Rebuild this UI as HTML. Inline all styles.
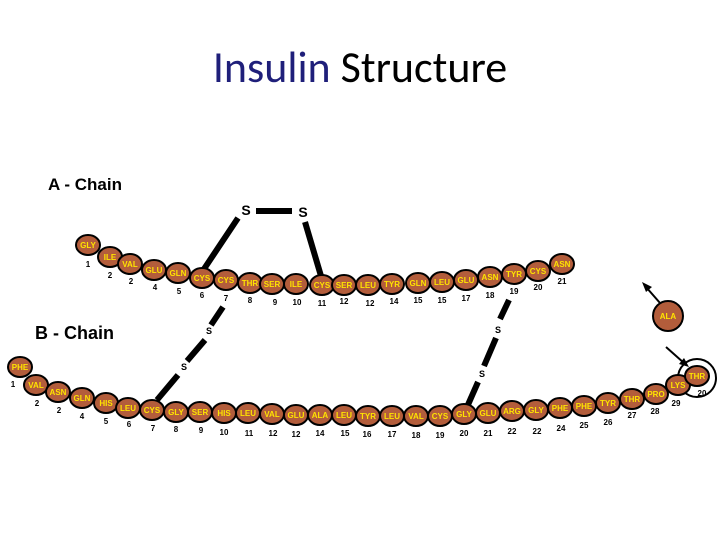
<!DOCTYPE html>
<html><head><meta charset="utf-8"><style>
html,body{margin:0;padding:0;background:#fff;width:720px;height:540px;overflow:hidden}
svg{display:block}
.b{fill:#B35D3B;stroke:#000;stroke-width:2}
.t{fill:#FFE400;font-family:"Liberation Sans",sans-serif;font-weight:bold;font-size:8px;text-anchor:middle}
.n{fill:#000;font-family:"Liberation Sans",sans-serif;font-weight:bold;font-size:8px;text-anchor:middle}
.s{fill:#000;font-family:"Liberation Sans",sans-serif;font-weight:bold;text-anchor:middle}
.bar{stroke:#000;stroke-width:6}
</style></head><body>
<svg id="g" width="720" height="540" viewBox="0 0 720 540" xmlns="http://www.w3.org/2000/svg">
<text x="360" y="82" text-anchor="middle" font-family="Carlito,'Liberation Sans',sans-serif" font-size="44"><tspan fill="#1F1F7A">Insulin</tspan> Structure</text>
<text x="48" y="190" font-family="'Liberation Sans',sans-serif" font-weight="bold" font-size="17">A - Chain</text>
<text x="35" y="339" font-family="'Liberation Sans',sans-serif" font-weight="bold" font-size="18">B - Chain</text>
<text class="s" x="246" y="215" font-size="14">S</text>
<text class="s" x="303" y="217" font-size="14">S</text>
<line class="bar" x1="256" y1="211" x2="292" y2="211"/>
<line class="bar" x1="238" y1="218" x2="204" y2="269"/>
<line class="bar" x1="305" y1="222" x2="321" y2="276"/>
<line class="bar" x1="223" y1="307" x2="211" y2="325"/>
<text class="s" x="209" y="334" font-size="9">S</text>
<line class="bar" x1="205" y1="340" x2="187" y2="361"/>
<text class="s" x="184" y="370" font-size="9">S</text>
<line class="bar" x1="178" y1="375" x2="157" y2="400"/>
<line class="bar" x1="509" y1="300" x2="500" y2="319"/>
<text class="s" x="498" y="333" font-size="9">S</text>
<line class="bar" x1="496" y1="338" x2="484" y2="366"/>
<text class="s" x="482" y="377" font-size="9">S</text>
<line class="bar" x1="478" y1="382" x2="467" y2="407"/>
<line x1="660" y1="303" x2="646" y2="287" stroke="#000" stroke-width="2"/>
<polygon points="642,282 652,287 646,292" fill="#000"/>
<line x1="666" y1="347" x2="684" y2="363" stroke="#000" stroke-width="2"/>
<polygon points="689,367 679,364 684,358" fill="#000"/>
<circle cx="697" cy="378" r="19" fill="none" stroke="#000" stroke-width="2"/>
<g id="beads"></g>
</svg>
<script>
var A=[["GLY",88,245,"1",88,267],["ILE",110,257,"2",110,278],["VAL",130,264,"2",131,284],["GLU",154,270,"4",155,290],["GLN",178,273,"5",179,294],["CYS",202,278,"6",202,298],["CYS",226,280,"7",226,301],["THR",250,283,"8",250,303],["SER",272,284,"9",275,305],["ILE",296,284,"10",297,305],["CYS",322,285,"11",322,306],["SER",344,285,"12",344,304],["LEU",368,285,"12",370,306],["TYR",392,284,"14",394,304],["GLN",418,283,"15",418,303],["LEU",442,282,"15",442,303],["GLU",466,280,"17",466,301],["ASN",490,277,"18",490,298],["TYR",514,274,"19",514,294],["CYS",538,271,"20",538,290],["ASN",562,264,"21",562,284],
["PHE",20,367,"1",13,387],["VAL",36,385,"2",37,406],["ASN",58,392,"2",59,413],["GLN",82,398,"4",82,419],["HIS",106,403,"5",106,424],["LEU",128,408,"6",129,427],["CYS",152,410,"7",153,431],["GLY",176,412,"8",176,432],["SER",200,412,"9",201,433],["HIS",224,413,"10",224,435],["LEU",248,413,"11",249,436],["VAL",272,414,"12",273,436],["GLU",296,415,"12",296,437],["ALA",320,415,"14",320,436],["LEU",344,415,"15",345,436],["TYR",368,416,"16",367,437],["LEU",392,416,"17",392,437],["VAL",416,416,"18",416,438],["CYS",440,416,"19",440,438],["GLY",464,414,"20",464,436],["GLU",488,413,"21",488,436],["ARG",512,411,"22",512,434],["GLY",536,410,"22",537,434],["PHE",560,408,"24",561,431],["PHE",584,406,"25",584,428],["TYR",608,403,"26",608,425],["THR",632,399,"27",632,418],["PRO",656,394,"28",655,414],["LYS",678,385,"29",676,406],["THR",697,376,"20",702,396],
["ALA",668,316,"",0,0]];
var h="";A.forEach(function(a){var big=a[0]=="ALA"&&a[1]==668,rx=big?15:12,ry=big?15:10;
h+='<ellipse class="b" cx="'+a[1]+'" cy="'+a[2]+'" rx="'+rx+'" ry="'+ry+'"/><text class="t" x="'+a[1]+'" y="'+(a[2]+3)+'">'+a[0]+'</text>';
if(a[3])h+='<text class="n" x="'+a[4]+'" y="'+a[5]+'">'+a[3]+'</text>';});
document.getElementById("beads").innerHTML=h;
</script>
</body></html>
